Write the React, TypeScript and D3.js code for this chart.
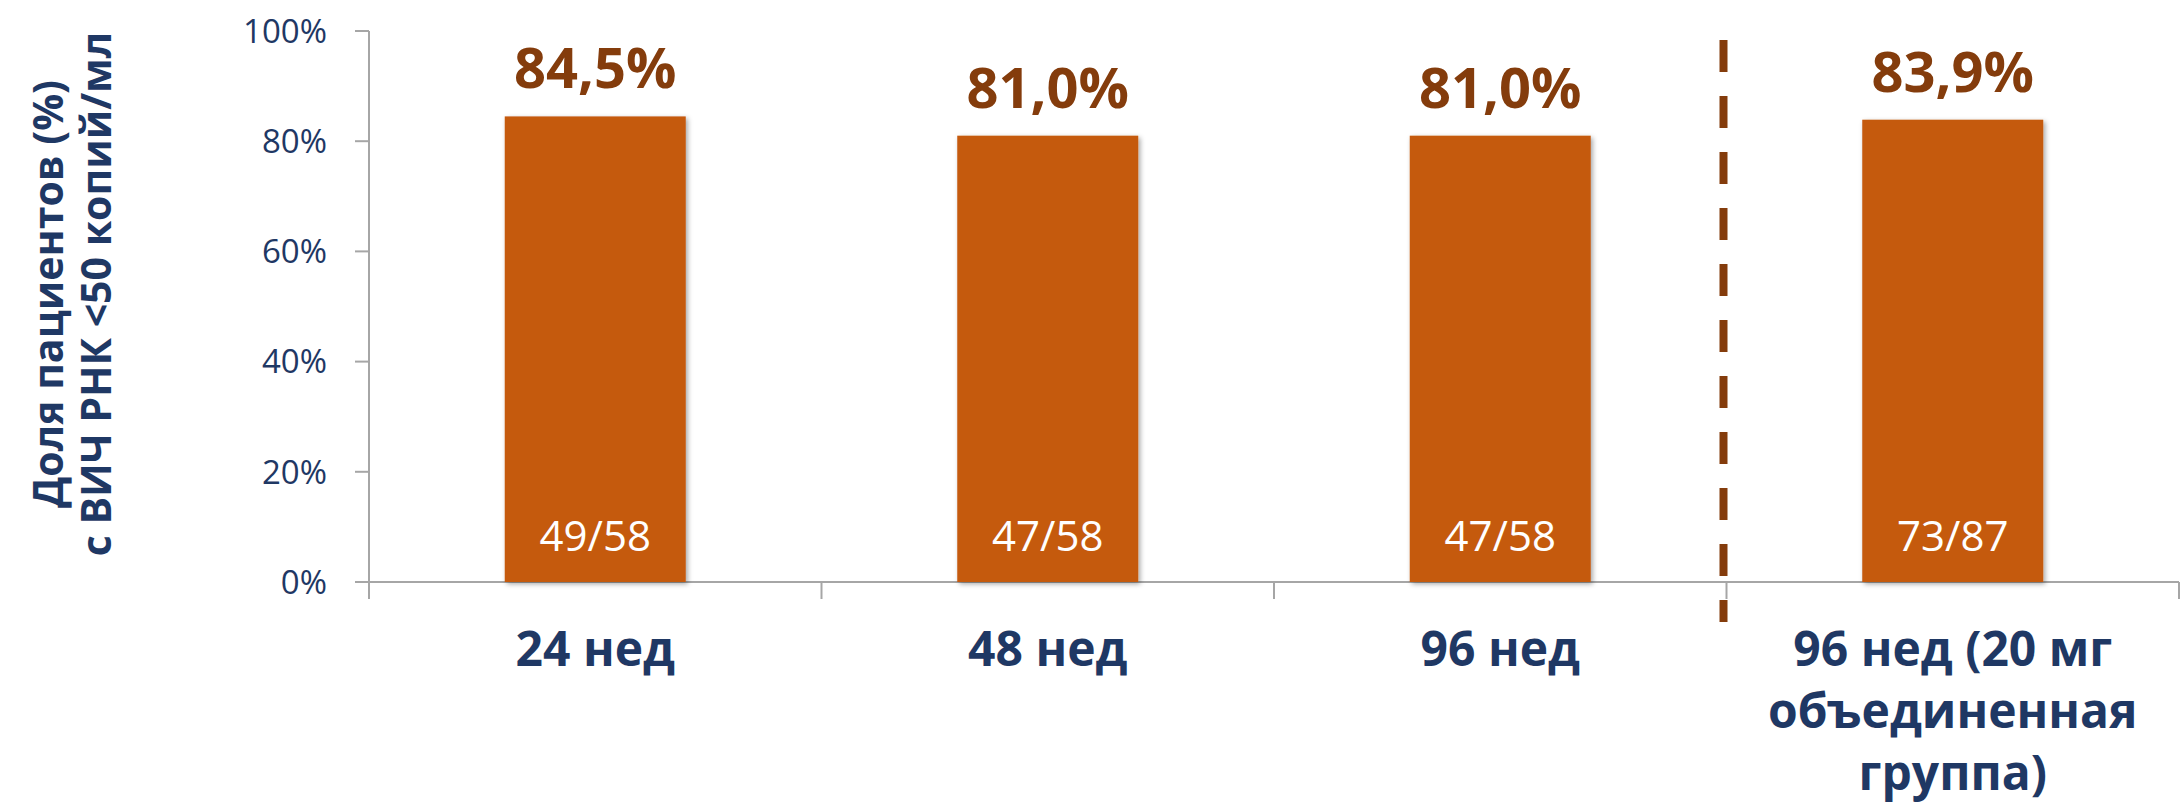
import React from "react";
import * as d3 from "d3";

const categories: string[][] = [
  ["24 нед"],
  ["48 нед"],
  ["96 нед"],
  ["96 нед (20 мг", "объединенная", "группа)"],
];
const values: number[] = [0.845, 0.81, 0.81, 0.839];
const valueLabels: string[] = ["84,5%", "81,0%", "81,0%", "83,9%"];
const countLabels: string[] = ["49/58", "47/58", "47/58", "73/87"];
const yTicks: number[] = [0, 0.2, 0.4, 0.6, 0.8, 1.0];
const yTitle: string[] = ["Доля пациентов (%)", "с ВИЧ РНК <50 копий/мл"];

const W = 2183;
const H = 807;
const left = 369;
const right = 2179;
const top = 31;
const bottom = 582;

const BAR = "#C55A11";
const BROWN = "#843C0C";
const NAVY = "#1F3864";
const AXIS = "#A6A6A6";
const FONT = "'Open Sans', 'Noto Sans', sans-serif";

export default function App() {
  const keys = categories.map((_, i) => String(i));
  const x = d3.scaleBand<string>().domain(keys).range([left, right]).paddingInner(0.6).paddingOuter(0.3);
  const y = d3.scaleLinear().domain([0, 1]).range([bottom, top]);
  const step = x.step();
  const bw = x.bandwidth();
  const boundaries = d3.range(keys.length + 1).map((i) => left + i * step);
  const sepX = boundaries[3] - 3;

  return (
    <svg
      width={W}
      height={H}
      style={{ position: "fixed", left: 0, top: 0, background: "#fff" }}
      fontFamily={FONT}
    >
      <defs>
        <filter id="sh" x="-10%" y="-10%" width="130%" height="120%">
          <feDropShadow dx="2" dy="2" stdDeviation="2.5" floodColor="#000" floodOpacity="0.35" />
        </filter>
      </defs>
      <rect x={0} y={0} width={W} height={H} fill="#fff" />

      {/* y title */}
      {yTitle.map((t, i) => (
        <text
          key={i}
          transform={`translate(${63 + i * 48}, 294) rotate(-90)`}
          textAnchor="middle"
          fontSize={41}
          fontWeight={700}
          fill={NAVY}
        >
          {t}
        </text>
      ))}

      {/* y axis */}
      <line x1={left} x2={left} y1={top} y2={bottom + 17} stroke={AXIS} strokeWidth={2} />
      {yTicks.map((t) => (
        <g key={t}>
          <line x1={left - 14} x2={left} y1={y(t)} y2={y(t)} stroke={AXIS} strokeWidth={2} />
          <text
            x={left - 42}
            y={y(t)}
            dy="0.36em"
            textAnchor="end"
            fontSize={33}
            fill={NAVY}
          >
            {d3.format(".0%")(t)}
          </text>
        </g>
      ))}

      {/* x axis */}
      <line x1={left} x2={right} y1={bottom} y2={bottom} stroke={AXIS} strokeWidth={2} />
      {boundaries.map((b, i) => (
        <line key={i} x1={b} x2={b} y1={bottom} y2={bottom + 17} stroke={AXIS} strokeWidth={2} />
      ))}

      {/* bars */}
      {values.map((v, i) => {
        const bx = x(keys[i]) as number;
        return (
          <g key={i}>
            <rect x={bx} y={y(v)} width={bw} height={bottom - y(v)} fill={BAR} filter="url(#sh)" />
            <text
              x={bx + bw / 2}
              y={y(v) - 28}
              textAnchor="middle"
              fontSize={56}
              fontWeight={700}
              fill={BROWN}
            >
              {valueLabels[i]}
            </text>
            <text
              x={bx + bw / 2}
              y={bottom - 31}
              textAnchor="middle"
              fontSize={42}
              fill="#fff"
            >
              {countLabels[i]}
            </text>
            {categories[i].map((line, j) => (
              <text
                key={j}
                x={bx + bw / 2}
                y={666 + j * 62}
                textAnchor="middle"
                fontSize={48}
                fontWeight={700}
                fill={NAVY}
              >
                {line}
              </text>
            ))}
          </g>
        );
      })}

      {/* separator */}
      <line
        x1={sepX}
        x2={sepX}
        y1={40}
        y2={622}
        stroke={BROWN}
        strokeWidth={8}
        strokeDasharray="32 24"
      />
    </svg>
  );
}
